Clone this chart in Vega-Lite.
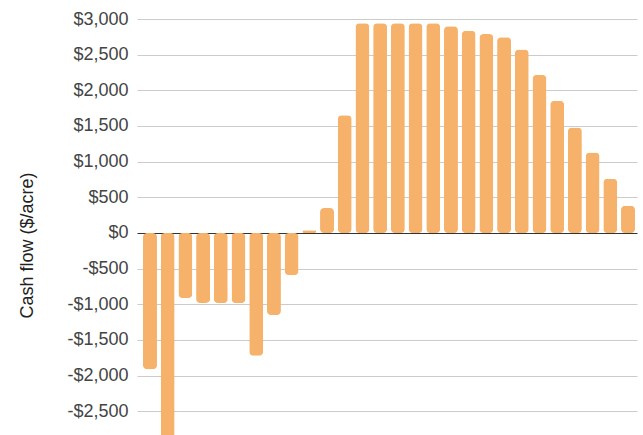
{
  "$schema": "https://vega.github.io/schema/vega-lite/v6.json",
  "width": 500,
  "height": 416,
  "autosize": {"type": "none"},
  "padding": {"left": 137, "top": 19, "right": 6, "bottom": 0},
  "background": "white",
  "config": {"view": {"stroke": null}, "font": "Liberation Sans"},
  "data": {"values": [
    {"year": 1, "cf": -1910},
    {"year": 2, "cf": -3200},
    {"year": 3, "cf": -910},
    {"year": 4, "cf": -980},
    {"year": 5, "cf": -980},
    {"year": 6, "cf": -980},
    {"year": 7, "cf": -1720},
    {"year": 8, "cf": -1150},
    {"year": 9, "cf": -590},
    {"year": 10, "cf": 40},
    {"year": 11, "cf": 350},
    {"year": 12, "cf": 1650},
    {"year": 13, "cf": 2940},
    {"year": 14, "cf": 2940},
    {"year": 15, "cf": 2940},
    {"year": 16, "cf": 2940},
    {"year": 17, "cf": 2940},
    {"year": 18, "cf": 2900},
    {"year": 19, "cf": 2835},
    {"year": 20, "cf": 2790},
    {"year": 21, "cf": 2745},
    {"year": 22, "cf": 2573},
    {"year": 23, "cf": 2215},
    {"year": 24, "cf": 1852},
    {"year": 25, "cf": 1480},
    {"year": 26, "cf": 1130},
    {"year": 27, "cf": 760},
    {"year": 28, "cf": 383}
  ]},
  "mark": {"type": "bar", "color": "#f6b26b", "cornerRadius": 4},
  "encoding": {
    "x": {
      "field": "year", "type": "ordinal",
      "scale": {"paddingInner": 0.21, "paddingOuter": 0.226, "align": 0.75},
      "axis": null
    },
    "y": {
      "field": "cf", "type": "quantitative",
      "scale": {"domain": [-2832, 3000], "nice": false},
      "axis": {
        "values": [-2500, -2000, -1500, -1000, -500, 0, 500, 1000, 1500, 2000, 2500, 3000],
        "labelExpr": "(datum.value < 0 ? '-' : '') + '$' + format(abs(datum.value), ',')",
        "domain": false,
        "ticks": false,
        "labelPadding": 9,
        "labelFontSize": 18,
        "labelColor": "#444444",
        "gridColor": {"condition": {"test": "datum.value === 0", "value": "#333333"}, "value": "#cccccc"},
        "gridWidth": 1.2,
        "title": "Cash flow ($/acre)",
        "titleFontSize": 18,
        "titleFontWeight": "normal",
        "titleColor": "#222222",
        "titleAngle": -90,
        "titleAlign": "center",
        "titleBaseline": "middle",
        "titleX": -110,
        "titleY": 226
      }
    }
  }
}
